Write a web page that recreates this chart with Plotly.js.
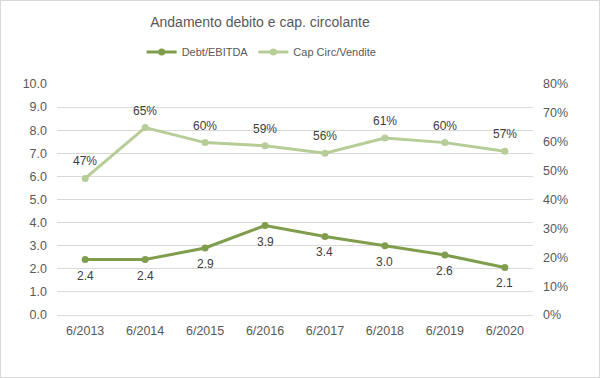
<!DOCTYPE html>
<html>
<head>
<meta charset="utf-8">
<script src="https://cdn.plot.ly/plotly-3.0.1.min.js"></script>
<style>
html,body{margin:0;padding:0;background:#fff;}
#chart{width:598px;height:376px;border:1px solid #d9d9d9;}
</style>
</head>
<body>
<div id="chart"></div>
<script>
const categories = ["6/2013","6/2014","6/2015","6/2016","6/2017","6/2018","6/2019","6/2020"];
const debtEbitda = [2.4, 2.4, 2.9, 3.87, 3.4, 3.0, 2.6, 2.06];
const capCircVendite = [0.473, 0.649, 0.597, 0.586, 0.56, 0.613, 0.597, 0.567];
const leftTicks = [0,1,2,3,4,5,6,7,8,9,10];
const rightTicks = [0,0.1,0.2,0.3,0.4,0.5,0.6,0.7,0.8];

const darkGreen = "#7f9d4c";
const lightGreen = "#b7cd97";
const sans = "'Liberation Sans', Arial, sans-serif";

const traces = [
  {
    x: categories, y: debtEbitda, name: "Debt/EBITDA", type: "scatter", mode: "lines+markers",
    line: {color: darkGreen, width: 3}, marker: {color: darkGreen, size: 7}, yaxis: "y", hoverinfo: "skip"
  },
  {
    x: categories, y: capCircVendite, name: "Cap Circ/Vendite", type: "scatter", mode: "lines+markers",
    line: {color: lightGreen, width: 3}, marker: {color: lightGreen, size: 7}, yaxis: "y2", hoverinfo: "skip"
  }
];

const annotations = [];
categories.forEach((c, i) => {
  annotations.push({x: c, y: debtEbitda[i], xref: "x", yref: "y", text: debtEbitda[i].toFixed(1),
    showarrow: false, yshift: -16, font: {family: sans, size: 12, color: "#404040"}});
  annotations.push({x: c, y: capCircVendite[i], xref: "x", yref: "y2", text: Math.round(capCircVendite[i]*100) + "%",
    showarrow: false, yshift: 17, font: {family: sans, size: 12, color: "#404040"}});
});

const layout = {
  width: 598, height: 376,
  margin: {l: 56, r: 66, t: 83, b: 62},
  paper_bgcolor: "#fff", plot_bgcolor: "#fff",
  title: {text: "Andamento debito e cap. circolante", x: 0.433, xref: "container", xanchor: "center", y: 0.945, yanchor: "middle",
    font: {family: sans, size: 14, color: "#595959"}},
  showlegend: true,
  legend: {orientation: "h", x: 0.43, xanchor: "center", y: 1.138, yanchor: "middle",
    font: {family: sans, size: 11, color: "#595959"}, itemwidth: 30, tracegroupgap: 0},
  xaxis: {type: "category", showgrid: false, zeroline: false, showline: false, ticks: "",
    ticklabelstandoff: 6, tickfont: {family: sans, size: 12.5, color: "#595959"}},
  yaxis: {range: [0, 10], tickvals: leftTicks, tickformat: ".1f", showgrid: true, gridcolor: "#d9d9d9", gridwidth: 1,
    zeroline: true, zerolinecolor: "#d9d9d9", zerolinewidth: 1, showline: false, ticks: "",
    ticklabelstandoff: 9, tickfont: {family: sans, size: 12.5, color: "#595959"}, fixedrange: true},
  yaxis2: {range: [0, 0.8], tickvals: rightTicks, tickformat: ".0%", overlaying: "y", side: "right", showgrid: false,
    zeroline: false, showline: false, ticks: "", ticklabelstandoff: 9,
    tickfont: {family: sans, size: 12.5, color: "#595959"}, fixedrange: true},
  annotations: annotations
};

Plotly.newPlot("chart", traces, layout, {displayModeBar: false, staticPlot: true});
</script>
</body>
</html>
